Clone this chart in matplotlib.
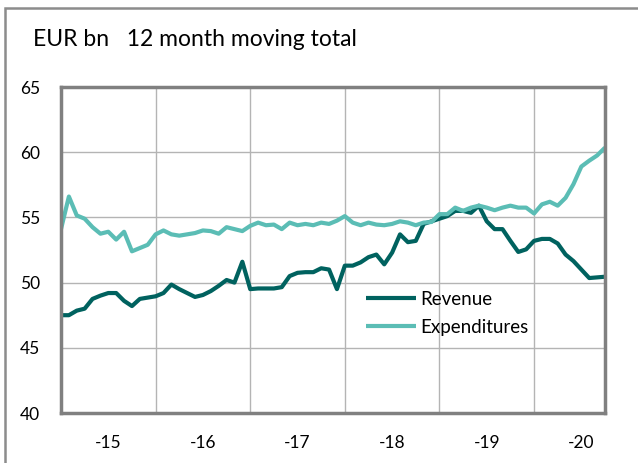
import numpy as np
import matplotlib
matplotlib.use("Agg")
import matplotlib.pyplot as plt
from matplotlib.patches import Rectangle

plt.rcParams['font.family'] = ['Lato', 'DejaVu Sans']

# monthly, Jan 2015 - Oct 2020, EUR bn 12 month moving total
revenue = [47.5, 47.5, 47.85, 48.0, 48.75, 49.0, 49.2, 49.2, 48.6, 48.2,
           48.75, 48.85, 48.95, 49.2, 49.85, 49.5, 49.2, 48.9, 49.05, 49.35,
           49.75, 50.2, 50.0, 51.6, 49.5, 49.55, 49.55, 49.55, 49.65, 50.5,
           50.75, 50.8, 50.8, 51.1, 51.0, 49.5, 51.3, 51.3, 51.55, 51.95,
           52.15, 51.4, 52.3, 53.7, 53.1, 53.2, 54.5, 54.7, 54.9, 55.1,
           55.5, 55.5, 55.35, 55.9, 54.7, 54.1, 54.1, 53.2, 52.35, 52.55,
           53.2, 53.35, 53.35, 53.0, 52.15, 51.65, 51.0, 50.35, 50.4, 50.45]
expenditures = [54.1, 56.6, 55.15, 54.9, 54.25, 53.75, 53.9, 53.3, 53.9, 52.4,
                52.65, 52.9, 53.7, 54.0, 53.7, 53.6, 53.7, 53.8, 54.0, 53.95,
                53.75, 54.25, 54.1, 53.95, 54.35, 54.6, 54.4, 54.45, 54.1, 54.6,
                54.4, 54.5, 54.4, 54.6, 54.5, 54.75, 55.1, 54.6, 54.4, 54.6,
                54.45, 54.4, 54.5, 54.7, 54.6, 54.4, 54.6, 54.65, 55.25, 55.25,
                55.75, 55.5, 55.75, 55.9, 55.75, 55.55, 55.75, 55.9, 55.75, 55.75,
                55.3, 56.0, 56.2, 55.9, 56.5, 57.55, 58.9, 59.35, 59.75, 60.35]
year_labels = ['-15', '-16', '-17', '-18', '-19', '-20']

months = np.arange(len(revenue))

fig = plt.figure(figsize=(6.38, 4.63), dpi=100)
fig.patches.append(Rectangle((5 / 638, -0.1), 1.1, (463 - 8) / 463 + 0.1,
                             transform=fig.transFigure, fill=False,
                             edgecolor='#8c8c8c', linewidth=1.8))

ax = fig.add_axes([61 / 638, 50 / 463, 544 / 638, 326 / 463])
ax.plot(months, revenue, color='#00625f', lw=3, label='Revenue',
        solid_capstyle='butt')
ax.plot(months, expenditures, color='#5bbdb5', lw=3, label='Expenditures',
        solid_capstyle='butt')

ax.set_xlim(0, len(revenue) - 1)
ax.set_ylim(40, 65)
ax.set_yticks([40, 45, 50, 55, 60, 65])
ax.set_xticks([12, 24, 36, 48, 60], minor=False)
ax.set_xticklabels([])
ax.set_xticks([6 + 12 * i for i in range(len(year_labels))], minor=True)
ax.set_xticklabels(year_labels, minor=True)
ax.tick_params(axis='x', which='both', length=0, pad=16, labelsize=12.5)
ax.tick_params(axis='y', length=0, pad=15, labelsize=12.5)
ax.grid(True, which='major', color='#b4b4b4', lw=1)
ax.set_axisbelow(True)
for s in ax.spines.values():
    s.set_color('#808080')
    s.set_linewidth(2.5)

leg = ax.legend(loc='upper left', bbox_to_anchor=(0.56, 0.375), frameon=False,
                fontsize=13.5, handlelength=2.7, handletextpad=0.2,
                labelspacing=0.6, borderaxespad=0, borderpad=0)

fig.text(33 / 638, 1 - 40 / 463, 'EUR bn   12 month moving total',
         fontsize=16.5, va='center', ha='left')

fig.savefig('out.png', dpi=100)
